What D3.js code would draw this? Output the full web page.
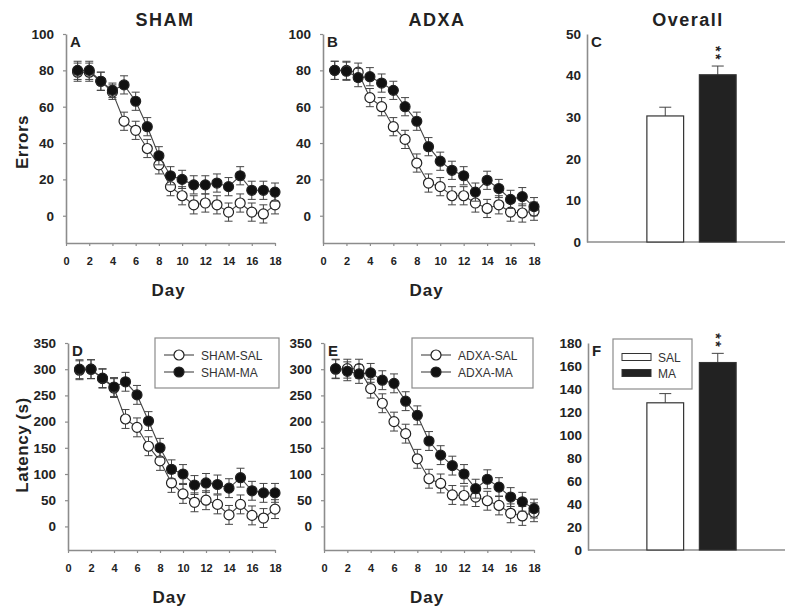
<!DOCTYPE html>
<html>
<head>
<meta charset="utf-8">
<script src="https://cdn.jsdelivr.net/npm/d3@7"></script>
<style>
  body { margin: 0; background: #fff; }
  svg { display: block; font-family: "Liberation Sans", Arial, sans-serif; }
  .tick text { fill: #222; font-weight: bold; }
</style>
</head>
<body>
<div class="svgContainer"></div>
<script>
// days on the x axis
const days = [1, 2, 3, 4, 5, 6, 7, 8, 9, 10, 11, 12, 13, 14, 15, 16, 17, 18];
const dayTicks = [0, 2, 4, 6, 8, 10, 12, 14, 16, 18];

// errors per day (mean, SEM)
const shamSalErrors = [79, 79, 74, 68, 52, 47, 37, 28, 16, 11, 6, 7, 6, 2, 7, 2, 1, 6];
const shamMaErrors = [80, 80, 74, 69, 72, 63, 49, 33, 22, 20, 17, 17, 18, 16, 22, 14, 14, 13];
const shamSalErrorsSem = [5, 5, 5, 4, 5, 5, 5, 5, 5, 5, 5, 5, 5, 5, 5, 5, 5, 5];
const shamMaErrorsSem = [5, 5, 5, 4, 5, 5, 5, 5, 5, 5, 5, 5, 5, 5, 5, 5, 5, 5];

const adxaSalErrors = [80, 80, 79, 65, 60, 49, 42, 29, 18, 16, 11, 11, 7, 4, 6, 2, 1.5, 2.5];
const adxaMaErrors = [80, 79.5, 76, 76.5, 73, 69, 60, 52, 38, 30, 25, 22, 13, 19.5, 15, 9, 10.5, 5];
const adxaSalErrorsSem = [5, 5, 5, 5, 5, 5, 5, 5, 5, 5, 5, 5, 5, 5, 5, 5, 5, 5];
const adxaMaErrorsSem = [5, 5, 5, 5, 5, 5, 5, 5, 5, 5, 5, 5, 5, 5, 5, 5, 5, 5];

// latency per day (mean, SEM)
const shamSalLatency = [298, 300, 282, 264, 205, 189, 153, 125, 83, 62, 46, 50, 42, 22, 42, 21, 16, 33];
const shamMaLatency = [300, 300, 283, 266, 276, 251, 201, 150, 109, 100, 79, 83, 80, 73, 93, 68, 64, 64];
const shamSalLatencySem = [18, 18, 18, 18, 18, 18, 18, 18, 18, 18, 18, 18, 18, 18, 18, 18, 18, 18];
const shamMaLatencySem = [18, 18, 18, 18, 18, 18, 18, 18, 18, 18, 18, 18, 18, 18, 18, 18, 18, 18];

const adxaSalLatency = [300, 301, 301, 263, 235, 200, 177, 129, 91, 82, 60, 59, 56, 49, 40, 25, 20, 27];
const adxaMaLatency = [301, 296, 291, 293, 279, 273, 239, 212, 163, 136, 116, 100, 72, 90, 75, 56, 47, 34];
const adxaSalLatencySem = [18, 18, 18, 18, 18, 18, 18, 18, 18, 18, 18, 18, 18, 18, 18, 18, 18, 18];
const adxaMaLatencySem = [18, 18, 18, 18, 18, 18, 18, 18, 18, 18, 18, 18, 18, 18, 18, 18, 18, 18];

// overall bars
const groups = ['SAL', 'MA'];
const overallErrors = [30.3, 40.2];
const overallErrorsSem = [2.1, 2.1];
const overallLatency = [128, 163];
const overallLatencySem = [8, 8];

const errorTicks = [0, 20, 40, 60, 80, 100];
const latencyTicks = [0, 50, 100, 150, 200, 250, 300, 350];
const overallErrorTicks = [0, 10, 20, 30, 40, 50];
const overallLatencyTicks = [0, 20, 40, 60, 80, 100, 120, 140, 160, 180];

const width = 785, height = 608;
const axisColor = '#8c8c8c', ink = '#222';

const svg = d3.select('.svgContainer')
    .append('svg')
    .attr('width', width)
    .attr('height', height)
    .attr('viewBox', `0 0 ${width} ${height}`);

function styleAxis(g) {
    g.select('.domain').attr('stroke', axisColor).attr('stroke-width', 1.6);
    g.selectAll('.tick line').attr('stroke', axisColor).attr('stroke-width', 1.2);
}

function linePanel(p) {
    const x = d3.scaleLinear().domain([0, 18]).range([p.left, p.right]);
    const y = d3.scaleLinear().domain(p.yDomain).range([p.bottom, p.top]);
    const g = svg.append('g');

    g.append('g')
        .attr('transform', `translate(${p.left},0)`)
        .call(d3.axisLeft(y).tickValues(p.yTicks).tickSize(3).tickSizeOuter(0).tickPadding(9))
        .call(styleAxis)
        .selectAll('text').style('font-size', '13.5px');

    g.append('g')
        .attr('transform', `translate(0,${p.bottom})`)
        .call(d3.axisBottom(x).tickValues(dayTicks).tickSize(3).tickSizeOuter(0).tickPadding(11))
        .call(styleAxis)
        .selectAll('text').style('font-size', '11px');

    const line = d3.line().x((d, i) => x(days[i])).y(d => y(d));

    p.series.forEach(s => {
        const sg = g.append('g');
        sg.append('path')
            .datum(s.values)
            .attr('fill', 'none')
            .attr('stroke', '#444')
            .attr('stroke-width', 1.1)
            .attr('d', line);

        const eb = sg.selectAll('.eb')
            .data(s.values)
            .enter().append('g');
        eb.append('line')
            .attr('x1', (d, i) => x(days[i])).attr('x2', (d, i) => x(days[i]))
            .attr('y1', (d, i) => y(d - s.sem[i])).attr('y2', (d, i) => y(d + s.sem[i]));
        eb.append('line')
            .attr('x1', (d, i) => x(days[i]) - 4).attr('x2', (d, i) => x(days[i]) + 4)
            .attr('y1', (d, i) => y(d - s.sem[i])).attr('y2', (d, i) => y(d - s.sem[i]));
        eb.append('line')
            .attr('x1', (d, i) => x(days[i]) - 4).attr('x2', (d, i) => x(days[i]) + 4)
            .attr('y1', (d, i) => y(d + s.sem[i])).attr('y2', (d, i) => y(d + s.sem[i]));
        eb.selectAll('line').attr('stroke', '#444').attr('stroke-width', 1);

        sg.selectAll('circle')
            .data(s.values)
            .enter().append('circle')
            .attr('cx', (d, i) => x(days[i]))
            .attr('cy', d => y(d))
            .attr('r', 5)
            .attr('fill', s.filled ? '#111' : '#fff')
            .attr('stroke', '#222')
            .attr('stroke-width', 1.2);
    });

    g.append('text')
        .attr('x', p.left + 4).attr('y', p.top + 13)
        .attr('font-size', 15).attr('font-weight', 'bold').attr('fill', ink)
        .text(p.letter);

    g.append('text')
        .attr('x', (p.left + p.right) / 2 - 2).attr('y', p.bottom + 53)
        .attr('text-anchor', 'middle')
        .attr('font-size', 17).attr('font-weight', 'bold').attr('letter-spacing', 1).attr('fill', ink)
        .text('Day');

    if (p.legend) {
        const lg = g.append('g');
        lg.append('rect')
            .attr('x', p.legend.x).attr('y', p.legend.y)
            .attr('width', p.legend.w).attr('height', 50)
            .attr('fill', '#fff').attr('stroke', axisColor).attr('stroke-width', 1.2);
        p.series.forEach((s, i) => {
            const ly = p.legend.y + 17 + i * 17;
            lg.append('line')
                .attr('x1', p.legend.x + 9).attr('x2', p.legend.x + 39)
                .attr('y1', ly).attr('y2', ly)
                .attr('stroke', '#444').attr('stroke-width', 1.1);
            lg.append('circle')
                .attr('cx', p.legend.x + 24).attr('cy', ly).attr('r', 5)
                .attr('fill', s.filled ? '#111' : '#fff')
                .attr('stroke', '#222').attr('stroke-width', 1.2);
            lg.append('text')
                .attr('x', p.legend.x + 46).attr('y', ly + 4.5)
                .attr('font-size', 12).attr('fill', '#333')
                .text(s.name);
        });
    }
}

function barPanel(p) {
    const x = d3.scaleBand().domain(groups).range([639, 744]).paddingInner(0.3).paddingOuter(0.15);
    const y = d3.scaleLinear().domain(p.yDomain).range([p.bottom, p.top]);
    const g = svg.append('g');

    g.append('g')
        .attr('transform', `translate(${p.left},0)`)
        .call(d3.axisLeft(y).tickValues(p.yTicks).tickSize(0).tickSizeOuter(0).tickPadding(6))
        .call(styleAxis)
        .selectAll('text').style('font-size', '13.5px');

    g.append('line')
        .attr('x1', p.left).attr('x2', width)
        .attr('y1', p.bottom).attr('y2', p.bottom)
        .attr('stroke', axisColor).attr('stroke-width', 1.6);

    const bars = g.selectAll('.bar')
        .data(groups)
        .enter().append('g');
    bars.append('line')
        .attr('x1', d => x(d) + x.bandwidth() / 2).attr('x2', d => x(d) + x.bandwidth() / 2)
        .attr('y1', (d, i) => y(p.values[i])).attr('y2', (d, i) => y(p.values[i] + p.sem[i]));
    bars.append('line')
        .attr('x1', d => x(d) + x.bandwidth() / 2 - 6).attr('x2', d => x(d) + x.bandwidth() / 2 + 6)
        .attr('y1', (d, i) => y(p.values[i] + p.sem[i])).attr('y2', (d, i) => y(p.values[i] + p.sem[i]));
    bars.selectAll('line').attr('stroke', '#444').attr('stroke-width', 1);
    bars.append('rect')
        .attr('x', d => x(d))
        .attr('y', (d, i) => y(p.values[i]))
        .attr('width', x.bandwidth())
        .attr('height', (d, i) => p.bottom - y(p.values[i]))
        .attr('fill', (d, i) => i ? '#222' : '#fff')
        .attr('stroke', '#333').attr('stroke-width', 1.2);

    // significance stars over MA: "**" written downwards so they stack
    const capY = y(p.values[1] + p.sem[1]);
    const cx = x('MA') + x.bandwidth() / 2;
    g.append('text')
        .attr('transform', `translate(${cx - 7},${capY - 20}) rotate(90)`)
        .attr('font-size', 14).attr('font-weight', 'bold').attr('letter-spacing', 2.5).attr('fill', ink)
        .text('**');

    g.append('text')
        .attr('x', p.left + 4).attr('y', p.top + 13)
        .attr('font-size', 15).attr('font-weight', 'bold').attr('fill', ink)
        .text(p.letter);

    if (p.legend) {
        const lg = g.append('g');
        lg.append('rect')
            .attr('x', 613).attr('y', 339)
            .attr('width', 79).attr('height', 50)
            .attr('fill', '#fff').attr('stroke', axisColor).attr('stroke-width', 1.2);
        groups.forEach((name, i) => {
            const ly = 357 + i * 16;
            lg.append('rect')
                .attr('x', 622).attr('y', ly - 3.5)
                .attr('width', 29).attr('height', 7)
                .attr('fill', i ? '#222' : '#fff')
                .attr('stroke', '#333').attr('stroke-width', 1);
            lg.append('text')
                .attr('x', 658).attr('y', ly + 4.5)
                .attr('font-size', 12).attr('fill', '#333')
                .text(name);
        });
    }
}

linePanel({
    left: 66, right: 275, top: 34, bottom: 243,
    yDomain: [-15, 100], yTicks: errorTicks, letter: 'A',
    series: [
        { name: 'SHAM-SAL', values: shamSalErrors, sem: shamSalErrorsSem, filled: false },
        { name: 'SHAM-MA', values: shamMaErrors, sem: shamMaErrorsSem, filled: true }
    ]
});
linePanel({
    left: 323, right: 534, top: 34, bottom: 243,
    yDomain: [-15, 100], yTicks: errorTicks, letter: 'B',
    series: [
        { name: 'ADXA-SAL', values: adxaSalErrors, sem: adxaSalErrorsSem, filled: false },
        { name: 'ADXA-MA', values: adxaMaErrors, sem: adxaMaErrorsSem, filled: true }
    ]
});
barPanel({
    left: 587, top: 34, bottom: 242, yDomain: [0, 50], yTicks: overallErrorTicks, letter: 'C',
    values: overallErrors, sem: overallErrorsSem
});
linePanel({
    left: 68, right: 275, top: 343, bottom: 550,
    yDomain: [-45, 350], yTicks: latencyTicks, letter: 'D',
    legend: { x: 155, y: 338, w: 124 },
    series: [
        { name: 'SHAM-SAL', values: shamSalLatency, sem: shamSalLatencySem, filled: false },
        { name: 'SHAM-MA', values: shamMaLatency, sem: shamMaLatencySem, filled: true }
    ]
});
linePanel({
    left: 324, right: 534, top: 343, bottom: 550,
    yDomain: [-45, 350], yTicks: latencyTicks, letter: 'E',
    legend: { x: 412, y: 338, w: 121 },
    series: [
        { name: 'ADXA-SAL', values: adxaSalLatency, sem: adxaSalLatencySem, filled: false },
        { name: 'ADXA-MA', values: adxaMaLatency, sem: adxaMaLatencySem, filled: true }
    ]
});
barPanel({
    left: 588, top: 343, bottom: 550, yDomain: [0, 180], yTicks: overallLatencyTicks, letter: 'F',
    values: overallLatency, sem: overallLatencySem, legend: true
});

// column titles
[['SHAM', 165], ['ADXA', 437], ['Overall', 688]].forEach(t => {
    svg.append('text')
        .attr('x', t[1]).attr('y', 26)
        .attr('text-anchor', 'middle')
        .attr('font-size', 18).attr('font-weight', 'bold').attr('letter-spacing', 1.5).attr('fill', ink)
        .text(t[0]);
});

// y axis titles
[['Errors', 142], ['Latency (s)', 445]].forEach(t => {
    svg.append('text')
        .attr('transform', `translate(28,${t[1]}) rotate(-90)`)
        .attr('text-anchor', 'middle')
        .attr('font-size', 17).attr('font-weight', 'bold').attr('letter-spacing', 0.5).attr('fill', ink)
        .text(t[0]);
});
</script>
</body>
</html>
